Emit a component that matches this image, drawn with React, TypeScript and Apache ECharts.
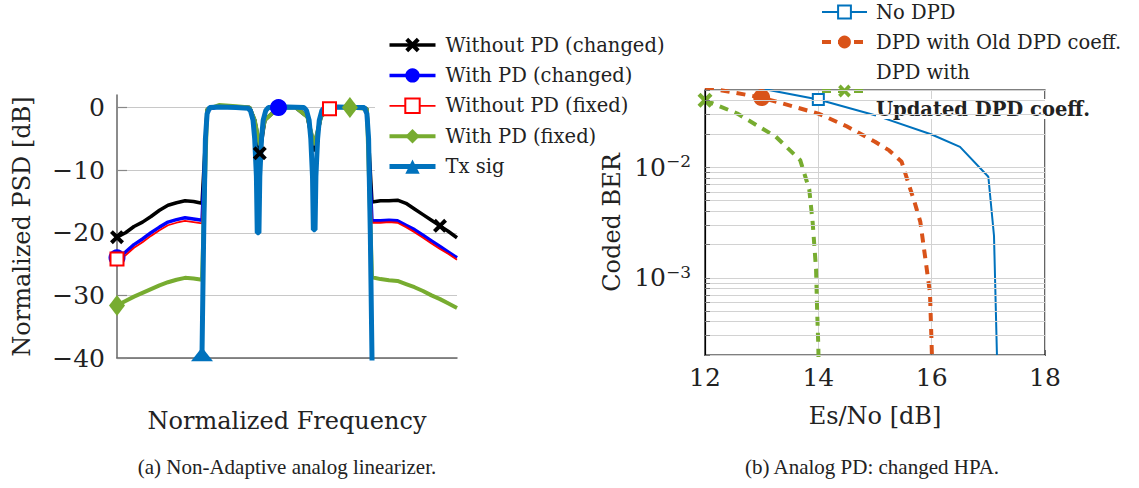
import React, { useEffect, useRef } from 'react';
import * as echarts from 'echarts';

const FONT = "'DejaVu Serif', serif";

// ---------- (a) PSD plot ----------
const LEFT_NAMES = ['Without PD (changed)', 'With PD (changed)', 'Without PD (fixed)', 'With PD (fixed)', 'Tx sig'];
const PSD_TICKS = [-40, -30, -20, -10, 0];

const F_LEFT = [-1, -0.95, -0.9, -0.85, -0.8, -0.75, -0.7, -0.65, -0.6, -0.55, -0.5];
const F_IN = [-0.47, -0.4, -0.3, -0.22, -0.19, -0.16, -0.13, -0.05, 0.05, 0.12, 0.16, 0.2, 0.25, 0.3, 0.37, 0.47];
const F_RIGHT = [0.5, 0.55, 0.6, 0.65, 0.7, 0.75, 0.8, 0.85, 0.9, 0.95, 1];

const BLACK_L = [-20.7, -20.0, -19.0, -18.3, -17.4, -16.4, -15.6, -15.2, -14.9, -15.0, -15.3];
const BLACK_IN = [-0.3, 0.2, 0.1, 0, -2, -7.3, -2, 0, 0.1, -1.5, -7, -1.5, 0, 0.1, 0.1, -0.2];
const BLACK_R = [-15.1, -14.9, -14.9, -14.8, -15.3, -16.2, -17.1, -18.0, -18.9, -19.8, -20.8];

const BLUE_L = [-24.0, -23.1, -21.9, -21.0, -20.0, -19.1, -18.3, -17.9, -17.6, -17.8, -18.0];
const BLUE_IN = [-0.3, 0.1, 0.1, 0, -2, -6, -2, 0, 0, -1.5, -6, -1.5, 0, 0.1, 0.1, -0.2];
const BLUE_R = [-18.1, -18.1, -18.0, -18.1, -18.8, -19.5, -20.4, -21.3, -22.2, -23.1, -24.0];

const RED_L = [-24.2, -23.6, -22.4, -21.5, -20.5, -19.6, -18.8, -18.4, -18.1, -18.3, -18.5];
const RED_IN = [-0.3, 0.1, 0.1, 0, -2, -6, -2, 0, 0, -1.5, -6, -1.5, -0.2, 0.1, 0.1, -0.2];
const RED_R = [-18.4, -18.4, -18.3, -18.4, -19.1, -19.9, -20.8, -21.7, -22.6, -23.4, -24.3];

const GREEN_L = [-31.6, -30.9, -30.2, -29.6, -29.0, -28.4, -27.9, -27.5, -27.2, -27.3, -27.5];
const GREEN_IN = [-0.3, 0.4, 0.2, 0, -2, -6, -2, 0, 0, -1.5, -6, -1.5, 0, 0.1, 0, -0.2];
const GREEN_R = [-27.1, -27.4, -27.6, -27.7, -28.2, -28.7, -29.3, -30.0, -30.6, -31.3, -32.0];

const TX_F = [-0.503, -0.5, -0.49, -0.48, -0.47, -0.455, -0.4, -0.3, -0.23, -0.215, -0.2, -0.19, -0.18, -0.175, -0.165, -0.16, -0.15, -0.14, -0.125, -0.11, 0, 0.1, 0.115, 0.13, 0.14, 0.15, 0.155, 0.165, 0.17, 0.18, 0.19, 0.205, 0.22, 0.3, 0.4, 0.455, 0.47, 0.48, 0.49, 0.5, 0.503];
const TX_DB = [-50, -39.4, -20, -5, -1, 0, 0.1, 0, -0.1, -0.5, -2, -5, -11, -20, -20, -11, -5, -2, -0.5, 0, 0.1, 0, -0.5, -2, -5, -11, -19.5, -19.5, -11, -5, -2, -0.5, 0, 0.1, 0, 0, -1, -5, -20, -40, -50];

const BLACK_MARKS = [-1, -0.16, 0.9];
const BLUE_MARKS = [-1, -0.05];
const RED_MARKS = [-1, 0.25];
const GREEN_MARKS = [-1, 0.37];
const TX_MARKS = [-0.5];

// ---------- (b) BER plot ----------
const RIGHT_NAMES = ['No DPD', 'DPD with Old DPD coeff.', 'DPD with Updated DPD coeff.'];
const ESNO_TICKS = [12, 14, 16, 18];
const BER_GRID = [2e-4, 3e-4, 4e-4, 5e-4, 6e-4, 7e-4, 8e-4, 9e-4, 1e-3, 2e-3, 3e-3, 4e-3, 5e-3, 6e-3, 7e-3, 8e-3, 9e-3, 1e-2, 2e-2, 3e-2, 4e-2, 5e-2];
const BER_LABELS = [1e-3, 1e-2];

const NODPD_X = [12, 13, 14, 15, 16, 16.5, 17, 17.1, 17.2];
const NODPD_Y = [0.06, 0.0515, 0.041, 0.0296, 0.0198, 0.0153, 0.0082, 0.0024, 0.00002];
const OLD_X = [12, 13, 14, 14.5, 15, 15.25, 15.47, 15.6, 15.7, 15.8, 15.9, 15.97, 16.0, 16.02];
const OLD_Y = [0.0528, 0.0427, 0.0306, 0.0235, 0.017, 0.0142, 0.0112, 0.0069, 0.0048, 0.0032, 0.00135, 0.00073, 0.00024, 0.0001];
const UPD_X = [12, 12.57, 13.25, 13.68, 13.84, 13.9, 13.96, 13.98, 14.0, 14.01];
const UPD_Y = [0.0404, 0.0306, 0.0189, 0.0116, 0.0063, 0.00316, 0.00119, 0.00048, 0.00024, 0.0001];
const NODPD_MARKS = [14];
const OLD_MARKS = [13];
const UPD_MARKS = [12];

const CROSS = 'path://M0,2 L2,0 L5,3 L8,0 L10,2 L7,5 L10,8 L8,10 L5,7 L2,10 L0,8 L3,5 Z';

function build(xs: number[], ys: number[], marks: number[]) {
  return xs.map((x, i) => (marks.includes(x) ? { value: [x, ys[i]] } : { value: [x, ys[i]], symbol: 'none' }));
}

const minus = (v: number) => (v < 0 ? '\u2212' + Math.abs(v) : String(v));

export default function App() {
  const ref = useRef<HTMLDivElement>(null);
  useEffect(() => {
    if (!ref.current) return;
    const chart = echarts.init(ref.current, undefined, { renderer: 'svg' });
    const fLeftAll = [...F_LEFT, ...F_IN, ...F_RIGHT];
    const psd = (l: number[], m: number[], r: number[]) => [...l, ...m, ...r];

    const option: any = {
      animation: false,
      backgroundColor: '#fff',
      textStyle: { fontFamily: FONT, color: '#222' },
      grid: [
        { left: 117, top: 95, width: 340, height: 263 },
        { left: 705, top: 90, width: 340, height: 265, show: true, borderColor: '#000', borderWidth: 1.2, backgroundColor: 'transparent' },
      ],
      legend: [
        {
          data: LEFT_NAMES,
          orient: 'vertical',
          left: 375,
          top: 30,
          padding: [5, 8, 5, 12],
          backgroundColor: '#fff',
          itemWidth: 46,
          itemHeight: 18,
          itemGap: 10.4,
          selectedMode: false,
          lineStyle: { width: 'inherit' },
          textStyle: { fontFamily: FONT, fontSize: 19.5, lineHeight: 20, color: '#222', padding: [0, 0, 0, 5] },
        },
        {
          data: RIGHT_NAMES,
          orient: 'vertical',
          left: 815,
          top: 0,
          padding: [2, 5],
          itemWidth: 45,
          itemHeight: 16,
          itemGap: 10,
          selectedMode: false,
          lineStyle: { width: 'inherit' },
          formatter: (name: string) => (name === RIGHT_NAMES[2] ? '{a|DPD with}\n{sp| }\n{b|Updated DPD coeff.}' : name),
          textStyle: {
            fontFamily: FONT, fontSize: 19.5, lineHeight: 20, color: '#222', padding: [0, 0, 0, 4],
            rich: {
              a: { fontFamily: FONT, fontSize: 19.5, lineHeight: 18, color: '#222' },
              sp: { fontFamily: FONT, fontSize: 10, lineHeight: 18 },
              b: { fontFamily: FONT, fontSize: 19.5, fontWeight: 'bold', lineHeight: 20, color: '#222', backgroundColor: '#fff' },
            },
          },
        },
      ],
      xAxis: [
        {
          gridIndex: 0, type: 'value', min: -1, max: 1,
          axisLine: { show: true, onZero: false, lineStyle: { color: '#666', width: 1.5 } },
          axisTick: { show: false }, axisLabel: { show: false }, splitLine: { show: false },
          name: 'Normalized Frequency', nameLocation: 'middle', nameGap: 51,
          nameTextStyle: { fontFamily: FONT, fontSize: 24, color: '#222' },
        },
        {
          gridIndex: 1, type: 'value', min: 12, max: 18, interval: 2,
          axisLine: { show: true, onZero: false, lineStyle: { color: '#000', width: 1.2 } },
          axisTick: { show: true, inside: true, length: 5, customValues: ESNO_TICKS, lineStyle: { color: '#666' } },
          axisLabel: { fontFamily: FONT, fontSize: 25, margin: 10, color: '#222', customValues: ESNO_TICKS },
          splitLine: { show: true, lineStyle: { color: '#d2d2d2', width: 1 } },
          name: 'Es/No [dB]', nameLocation: 'middle', nameGap: 49,
          nameTextStyle: { fontFamily: FONT, fontSize: 24, color: '#222' },
        },
      ],
      yAxis: [
        {
          gridIndex: 0, type: 'value', min: -40, max: 2,
          axisLine: { show: true, onZero: false, lineStyle: { color: '#666', width: 1.5 } },
          axisTick: { show: true, inside: true, length: 10, customValues: PSD_TICKS, lineStyle: { color: '#888', width: 1.2 } },
          axisLabel: { customValues: PSD_TICKS, formatter: (v: number) => minus(v), fontFamily: FONT, fontSize: 25, margin: 12, color: '#222' },
          splitLine: { show: true, lineStyle: { color: '#c8c8c8', width: 1.2 } },
          name: 'Normalized PSD [dB]', nameLocation: 'middle', nameGap: 83,
          nameTextStyle: { fontFamily: FONT, fontSize: 24, color: '#222' },
        },
        {
          gridIndex: 1, type: 'log', logBase: 10, min: 2e-4, max: 0.05, z: 10,
          axisLine: { show: true, onZero: false, lineStyle: { color: '#000', width: 1.2 } },
          axisTick: { show: true, inside: true, length: 5, customValues: BER_GRID, lineStyle: { color: '#777' } },
          axisLabel: {
            customValues: BER_LABELS, margin: 14, color: '#222',
            formatter: (v: number) => '{b|10}{s|\u2212' + Math.round(-Math.log10(v)) + '}',
            rich: {
              b: { fontFamily: FONT, fontSize: 25, lineHeight: 28, color: '#222' },
              s: { fontFamily: FONT, fontSize: 17, lineHeight: 16, padding: [0, 0, 12, 0], color: '#222' },
            },
          },
          splitLine: { show: true, lineStyle: { color: '#d2d2d2', width: 1 } },
          name: 'Coded BER', nameLocation: 'middle', nameGap: 81,
          nameTextStyle: { fontFamily: FONT, fontSize: 24, color: '#222' },
        },
      ],
      series: [
        {
          name: LEFT_NAMES[0], type: 'line', xAxisIndex: 0, yAxisIndex: 0,
          data: build(fLeftAll, psd(BLACK_L, BLACK_IN, BLACK_R), BLACK_MARKS),
          symbol: CROSS, symbolSize: 14, color: '#000',
          lineStyle: { width: 3.5, color: '#000' }, itemStyle: { color: '#000' },
        },
        {
          name: LEFT_NAMES[1], type: 'line', xAxisIndex: 0, yAxisIndex: 0,
          data: build(fLeftAll, psd(BLUE_L, BLUE_IN, BLUE_R), BLUE_MARKS),
          symbol: 'circle', symbolSize: 17, color: '#0000ff',
          lineStyle: { width: 3.5, color: '#0000ff' }, itemStyle: { color: '#0000ff' },
        },
        {
          name: LEFT_NAMES[2], type: 'line', xAxisIndex: 0, yAxisIndex: 0,
          data: build(fLeftAll, psd(RED_L, RED_IN, RED_R), RED_MARKS),
          symbol: 'emptyRect', symbolSize: 13, color: '#ff0000',
          lineStyle: { width: 1.8, color: '#ff0000' }, itemStyle: { color: '#ff0000', borderColor: '#ff0000', borderWidth: 2.5 },
        },
        {
          name: LEFT_NAMES[3], type: 'line', xAxisIndex: 0, yAxisIndex: 0,
          data: build(fLeftAll, psd(GREEN_L, GREEN_IN, GREEN_R), GREEN_MARKS),
          symbol: 'diamond', symbolSize: [16, 21], color: '#77ac30',
          lineStyle: { width: 4, color: '#77ac30' }, itemStyle: { color: '#77ac30' },
        },
        {
          name: LEFT_NAMES[4], type: 'line', xAxisIndex: 0, yAxisIndex: 0,
          data: build(TX_F, TX_DB, TX_MARKS),
          symbol: 'triangle', symbolSize: [22, 14], color: '#0072bd',
          lineStyle: { width: 5, color: '#0072bd' }, itemStyle: { color: '#0072bd' },
        },
        {
          name: RIGHT_NAMES[0], type: 'line', xAxisIndex: 1, yAxisIndex: 1,
          data: build(NODPD_X, NODPD_Y, NODPD_MARKS),
          symbol: 'emptyRect', symbolSize: 11, color: '#0072bd',
          lineStyle: { width: 2, color: '#0072bd' }, itemStyle: { color: '#0072bd', borderColor: '#0072bd', borderWidth: 2 },
        },
        {
          name: RIGHT_NAMES[1], type: 'line', xAxisIndex: 1, yAxisIndex: 1,
          data: build(OLD_X, OLD_Y, OLD_MARKS),
          symbol: 'circle', symbolSize: 17, color: '#d95319',
          lineStyle: { width: 4, color: '#d95319', type: [9, 7] }, itemStyle: { color: '#d95319' },
        },
        {
          name: RIGHT_NAMES[2], type: 'line', xAxisIndex: 1, yAxisIndex: 1,
          data: build(UPD_X, UPD_Y, UPD_MARKS),
          symbol: CROSS, symbolSize: 15, color: '#77ac30',
          lineStyle: { width: 4, color: '#77ac30', type: [9, 7] }, itemStyle: { color: '#77ac30' },
        },
      ],
      graphic: [
        {
          type: 'text', x: 287, y: 467,
          style: {
            text: '(a) Non-Adaptive analog linearizer.', fontFamily: "'Liberation Serif', serif", fontSize: 21,
            fill: '#222', align: 'center', verticalAlign: 'middle', textAlign: 'center', textVerticalAlign: 'middle',
          },
        },
        {
          type: 'text', x: 872, y: 467,
          style: {
            text: '(b) Analog PD: changed HPA.', fontFamily: "'Liberation Serif', serif", fontSize: 21,
            fill: '#222', align: 'center', verticalAlign: 'middle', textAlign: 'center', textVerticalAlign: 'middle',
          },
        },
      ],
    };
    chart.setOption(option);
    return () => chart.dispose();
  }, []);
  return <div ref={ref} style={{ position: 'fixed', left: 0, top: 0, width: 1139, height: 488, background: '#fff' }} />;
}
